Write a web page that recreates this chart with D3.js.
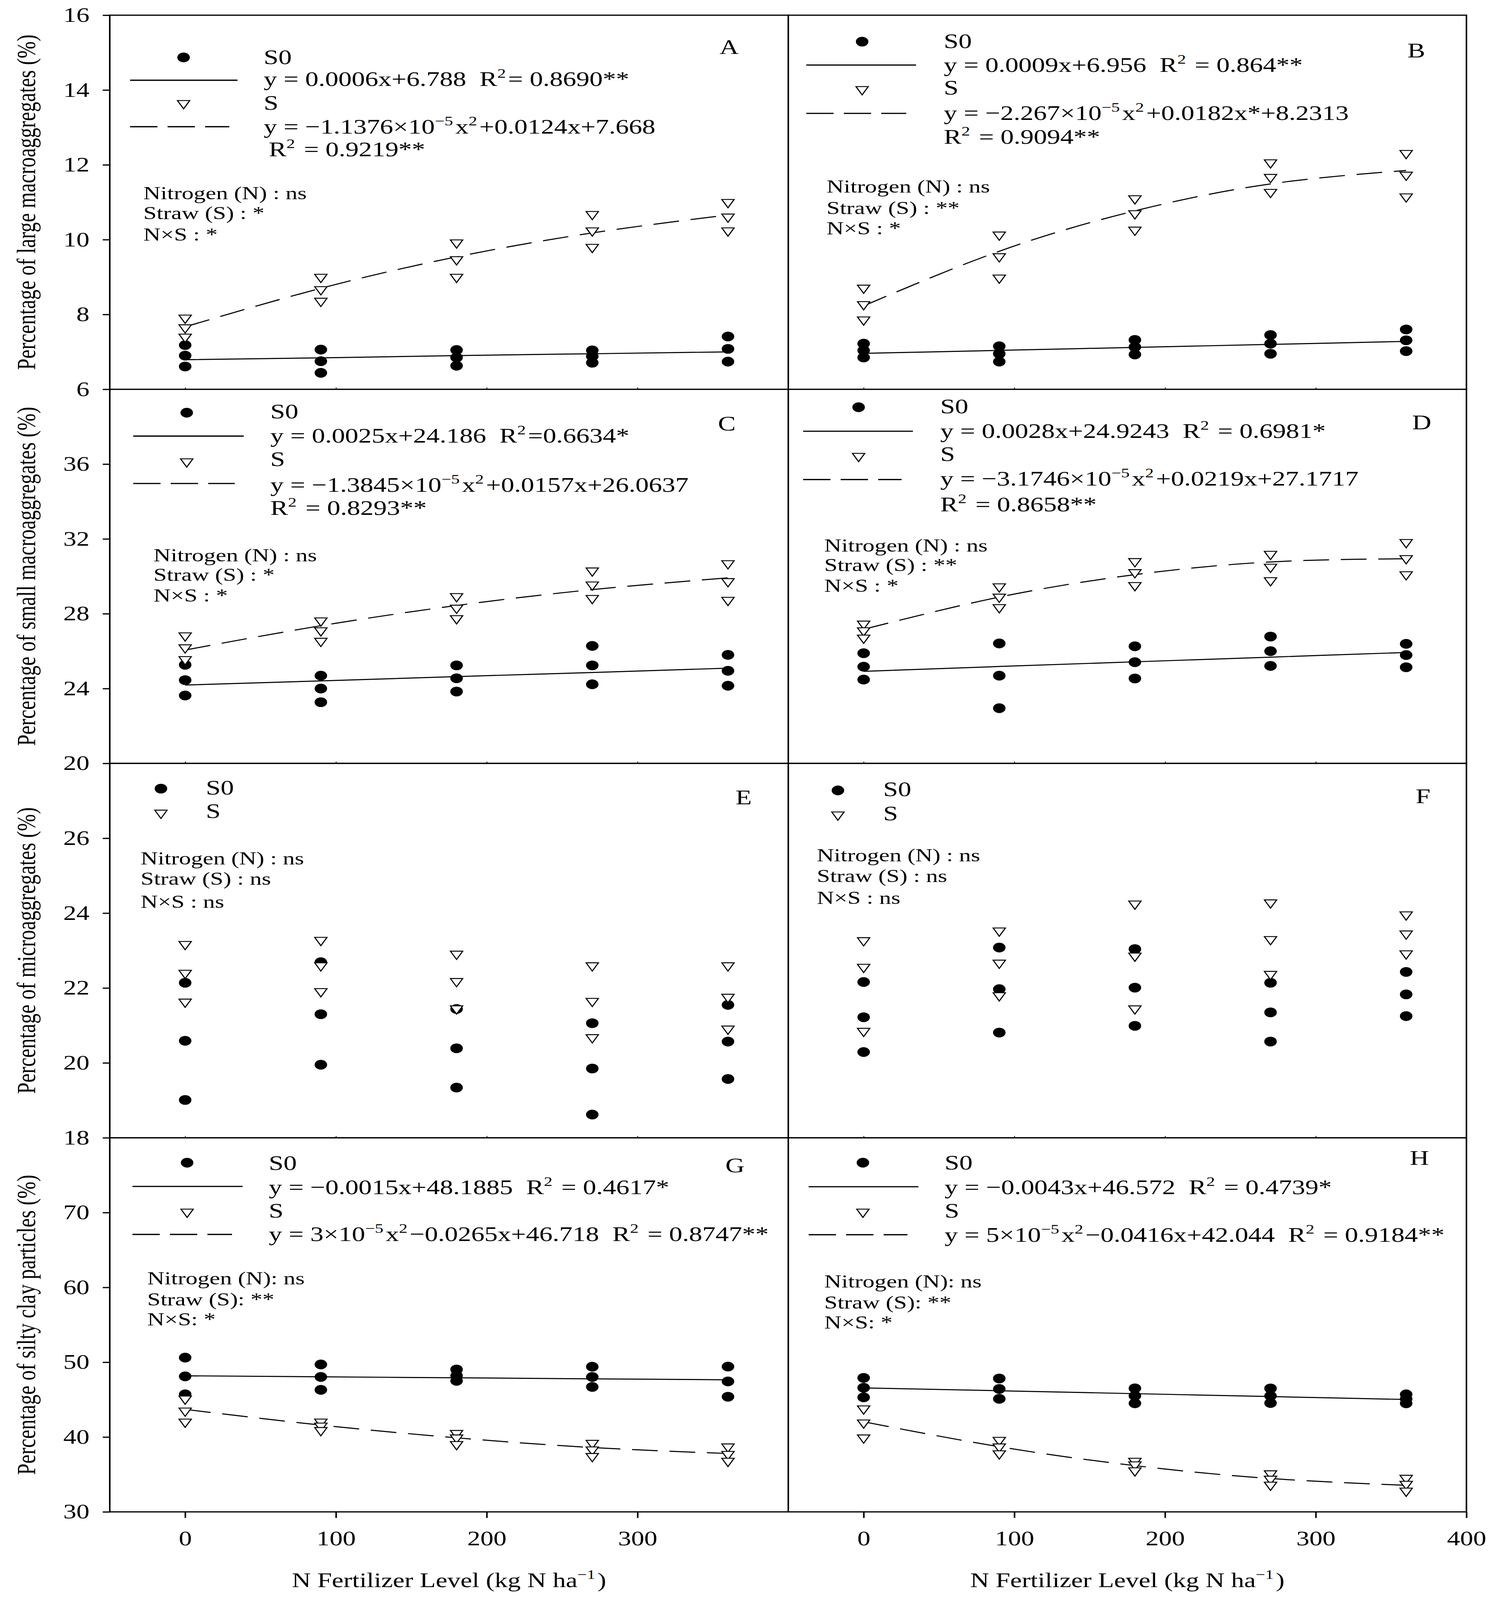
<!DOCTYPE html>
<html>
<head>
<meta charset="utf-8">
<script src="https://cdn.jsdelivr.net/npm/d3@7"></script>
<style>
  html, body { margin: 0; padding: 0; background: #fff; overflow: hidden; }
  svg { display: block; }
  svg text { font-family: "Liberation Serif", "Times New Roman", serif; fill: #000; white-space: pre; }
</style>
</head>
<body>
<svg id="chart"></svg>
<script>
// ---- data ----
var nLevels = [0, 90, 180, 270, 360];

// A: large macroaggregates, left
var aS0 = [[7.18, 6.90, 6.61], [7.06, 6.75, 6.44], [7.05, 6.85, 6.63], [7.04, 6.88, 6.71], [7.41, 7.08, 6.74]];
var aS = [[7.91, 7.65, 7.40], [9.00, 8.67, 8.36], [9.92, 9.47, 9.00], [10.68, 10.24, 9.80], [11.00, 10.61, 10.24]];
var aS0Fit = [6.79, 6.84, 6.90, 6.95, 7.00];
var aSFit = [7.67, 8.70, 9.54, 10.18, 10.66];

// B: large macroaggregates, right
var bS0 = [[7.22, 7.04, 6.85], [7.15, 6.95, 6.74], [7.32, 7.13, 6.93], [7.45, 7.22, 6.95], [7.60, 7.31, 7.02]];
var bS = [[8.71, 8.27, 7.86], [10.13, 9.55, 8.98], [11.10, 10.70, 10.26], [12.06, 11.67, 11.27], [12.31, 11.73, 11.15]];
var bS0Fit = [6.96, 7.04, 7.12, 7.20, 7.28];
var bSFit = [8.23, 9.69, 10.77, 11.49, 11.85];

// C: small macroaggregates, left
var cS0 = [[25.27, 24.45, 23.63], [24.69, 24.00, 23.27], [25.24, 24.55, 23.84], [26.28, 25.24, 24.23], [25.80, 24.95, 24.15]];
var cS = [[26.83, 26.19, 25.56], [27.63, 27.10, 26.54], [28.93, 28.31, 27.75], [30.30, 29.55, 28.83], [30.69, 29.73, 28.73]];
var cS0Fit = [24.19, 24.41, 24.64, 24.86, 25.09];
var cSFit = [26.06, 27.36, 28.44, 29.29, 29.92];

// D: small macroaggregates, right
var dS0 = [[25.89, 25.17, 24.48], [26.41, 24.69, 22.95], [26.26, 25.41, 24.54], [26.78, 26.00, 25.21], [26.39, 25.79, 25.14]];
var dS = [[27.46, 27.10, 26.71], [29.45, 28.90, 28.34], [30.80, 30.21, 29.52], [31.19, 30.50, 29.78], [31.82, 30.96, 30.10]];
var dS0Fit = [24.92, 25.18, 25.43, 25.68, 25.93];
var dSFit = [27.17, 28.89, 30.09, 30.77, 30.94];

// E: microaggregates, left
var eS0 = [[22.14, 20.59, 19.01], [22.69, 21.30, 19.95], [21.44, 20.39, 19.34], [21.06, 19.85, 18.62], [21.55, 20.57, 19.57]];
var eS = [[23.17, 22.40, 21.63], [23.28, 22.60, 21.91], [22.91, 22.18, 21.45], [22.60, 21.65, 20.68], [22.60, 21.76, 20.91]];

// F: microaggregates, right
var fS0 = [[22.16, 21.22, 20.29], [23.08, 21.97, 20.81], [23.04, 22.01, 20.99], [22.14, 21.35, 20.57], [22.43, 21.83, 21.25]];
var fS = [[23.27, 22.56, 20.85], [23.53, 22.67, 21.80], [24.25, 22.86, 21.45], [24.28, 23.30, 22.37], [23.96, 23.45, 22.92]];

// G: silty clay particles, left
var gS0 = [[50.62, 48.11, 45.71], [49.70, 48.03, 46.31], [49.03, 48.20, 47.51], [49.40, 48.03, 46.70], [49.42, 47.43, 45.39]];
var gS = [[45.11, 43.51, 42.03], [42.03, 41.50, 40.90], [40.51, 39.91, 39.03], [39.19, 38.31, 37.43], [38.71, 37.71, 36.80]];
var gS0Fit = [48.19, 48.05, 47.92, 47.78, 47.65];
var gSFit = [43.7, 41.6, 39.9, 38.6, 37.8];

// H: silty clay particles, right
var hS0 = [[47.91, 46.59, 45.31], [47.83, 46.43, 45.11], [46.51, 45.51, 44.51], [46.50, 45.50, 44.55], [45.71, 45.10, 44.51]];
var hS = [[43.79, 41.91, 39.91], [39.59, 38.71, 37.79], [36.80, 36.31, 35.52], [35.12, 34.40, 33.60], [34.52, 33.72, 32.80]];
var hS0Fit = [46.57, 46.19, 45.80, 45.41, 45.02];
var hSFit = [42.04, 38.71, 36.18, 34.46, 33.55];

// axes
var yDomains = [[6, 16], [20, 40], [18, 28], [30, 80]];
var yTicks = [[6, 8, 10, 12, 14, 16], [20, 24, 28, 32, 36], [18, 20, 22, 24, 26], [30, 40, 50, 60, 70]];
var yTitles = ["Percentage of large macroaggregates (%)", "Percentage of small macroaggregates (%)",
  "Percentage of microaggregates (%)", "Percentage of silty clay particles (%)"];
var xTicksLeft = [0, 100, 200, 300];
var xTicksRight = [0, 100, 200, 300, 400];
var xTitle = "N Fertilizer Level (kg N ha^{−1})";

// legend / annotation text
var statsSig1 = ["Nitrogen (N) : ns", "Straw (S) : *", "N×S : *"];
var statsSig2 = ["Nitrogen (N) : ns", "Straw (S) : **", "N×S : *"];
var statsNs = ["Nitrogen (N) : ns", "Straw (S) : ns", "N×S : ns"];
var statsClay = ["Nitrogen (N): ns", "Straw (S): **", "N×S: *"];

var eqA = ["y = 0.0006x+6.788  R^{2}= 0.8690**", "y = −1.1376×10^{−5}x^{2}+0.0124x+7.668", "R^{2} = 0.9219**"];
var eqB = ["y = 0.0009x+6.956  R^{2} = 0.864**", "y = −2.267×10^{−5}x^{2}+0.0182x*+8.2313", "R^{2} = 0.9094**"];
var eqC = ["y = 0.0025x+24.186  R^{2}=0.6634*", "y = −1.3845×10^{−5}x^{2}+0.0157x+26.0637", "R^{2} = 0.8293**"];
var eqD = ["y = 0.0028x+24.9243  R^{2} = 0.6981*", "y = −3.1746×10^{−5}x^{2}+0.0219x+27.1717", "R^{2} = 0.8658**"];
var eqG = ["y = −0.0015x+48.1885  R^{2} = 0.4617*", "y = 3×10^{−5}x^{2}−0.0265x+46.718  R^{2} = 0.8747**"];
var eqH = ["y = −0.0043x+46.572  R^{2} = 0.4739*", "y = 5×10^{−5}x^{2}−0.0416x+42.044  R^{2} = 0.9184**"];

// ---- layout ----
var W = 3822, H = 5265;
var colX = [281, 2018, 3754];
var rowY = [50, 1281, 2512, 3744, 4975];
var axisFont = 67, legendFont = 68, statsFont = 61;

var panels = [
  {id: "A", col: 0, row: 0, s0: aS0, s: aS, s0Fit: aS0Fit, sFit: aSFit, eq: eqA, stats: statsSig1,
   pos: {m: 189, mS0: 139, mS: 290, l: [52, 327], d: [52, 306], lS0: 214, lS: 367, tx: 394,
         tS0: 161, tEq0: 233, tS: 311, tEq: 389, eq2x: 407, tEq2: 464, sx: 86, sy: [605, 671, 742], lt: [1561, 128]}},
  {id: "B", col: 1, row: 0, s0: bS0, s: bS, s0Fit: bS0Fit, sFit: bSFit, eq: eqB, stats: statsSig2,
   pos: {m: 189, mS0: 87, mS: 244, l: [46, 327], d: [46, 302], lS0: 164, lS: 323, tx: 398,
         tS0: 108, tEq0: 186, tS: 261, tEq: 344, eq2x: 398, tEq2: 423, sx: 98, sy: [584, 655, 721], lt: [1585, 139]}},
  {id: "C", col: 0, row: 1, s0: cS0, s: cS, s0Fit: cS0Fit, sFit: cSFit, eq: eqC, stats: statsSig1,
   pos: {m: 197, mS0: 77, mS: 238, l: [60, 343], d: [60, 320], lS0: 154, lS: 310, tx: 411,
         tS0: 96, tEq0: 176, tS: 252, tEq: 337, eq2x: 411, tEq2: 413, sx: 112, sy: [566, 630, 699], lt: [1557, 136]}},
  {id: "D", col: 1, row: 1, s0: dS0, s: dS, s0Fit: dS0Fit, sFit: dSFit, eq: eqD, stats: statsSig2,
   pos: {m: 180, mS0: 59, mS: 220, l: [38, 319], d: [38, 290], lS0: 138, lS: 297, tx: 389,
         tS0: 79, tEq0: 160, tS: 236, tEq: 317, eq2x: 389, tEq2: 401, sx: 92, sy: [534, 598, 666], lt: [1597, 132]}},
  {id: "E", col: 0, row: 2, s0: eS0, s: eS, stats: statsNs,
   pos: {m: 131, mS0: 83, mS: 163, tx: 246, tS0: 103, tS: 179, sx: 79, sy: [332, 400, 475], lt: [1602, 135]}},
  {id: "F", col: 1, row: 2, s0: fS0, s: fS, stats: statsNs,
   pos: {m: 127, mS0: 89, mS: 169, tx: 243, tS0: 108, tS: 187, sx: 73, sy: [322, 390, 463], lt: [1606, 131]}},
  {id: "G", col: 0, row: 3, s0: gS0, s: gS, s0Fit: gS0Fit, sFit: gSFit, eq: eqG, stats: statsClay,
   pos: {m: 198, mS0: 82, mS: 244, l: [58, 340], d: [58, 313], lS0: 160, lS: 318, tx: 407,
         tS0: 106, tEq0: 185, tS: 262, tEq: 340, sx: 96, sy: [483, 552, 618], lt: [1576, 114]}},
  {id: "H", col: 1, row: 3, s0: hS0, s: hS, s0Fit: hS0Fit, sFit: hSFit, eq: eqH, stats: statsClay,
   pos: {m: 191, mS0: 82, mS: 244, l: [52, 333], d: [52, 305], lS0: 161, lS: 319, tx: 400,
         tS0: 104, tEq0: 185, tS: 262, tEq: 342, sx: 92, sy: [493, 562, 628], lt: [1591, 89]}}
];

// fit the drawing to whatever viewport we get
var vw = window.innerWidth || W, vh = window.innerHeight || H;
var svg = d3.select("#chart").attr("width", vw).attr("height", vh)
  .attr("viewBox", "0 0 " + W + " " + H).attr("preserveAspectRatio", "none");
svg.append("rect").attr("width", W).attr("height", H).attr("fill", "#fff");

var triangle = d3.symbol().type(d3.symbolTriangle).size(430);
var circleR = 16;

// writes "a^{b}c" as text with raised tspans
function richText(sel, str, size) {
  var parts = str.split(/\^\{([^}]*)\}/);
  var supSize = Math.round(size * 0.64), shift = Math.round(size * 0.4);
  parts.forEach(function (p, i) {
    if (p === "") return;
    var t = sel.append("tspan").text(p);
    if (i % 2 === 1) {
      t.attr("font-size", supSize).attr("dy", -shift);
      sel.append("tspan").attr("dy", shift).text("\u200a");
    }
  });
}

function drawTriangle(g, x, y) {
  g.append("path").attr("d", triangle)
    .attr("transform", "translate(" + x + "," + y + ") rotate(180)")
    .attr("fill", "#fff").attr("stroke", "#000").attr("stroke-width", 3);
}

panels.forEach(function (p) {
  var x0 = colX[p.col], x1 = colX[p.col + 1];
  var y0 = rowY[p.row], y1 = rowY[p.row + 1];
  var x = d3.scaleLinear().domain([-50, 400]).range([x0, x1]);
  var y = d3.scaleLinear().domain(yDomains[p.row]).range([y1, y0]);
  var g = svg.append("g");
  var pos = p.pos;

  // fit curves
  var line = d3.line().x(function (d, i) { return x(nLevels[i]); }).y(function (d) { return y(d); })
    .curve(d3.curveNatural);
  if (p.s0Fit) {
    g.append("path").attr("d", line(p.s0Fit)).attr("fill", "none").attr("stroke", "#000").attr("stroke-width", 3.5);
    g.append("path").attr("d", line(p.sFit)).attr("fill", "none").attr("stroke", "#000").attr("stroke-width", 3.5)
      .attr("stroke-dasharray", "66,30");
  }

  // points
  p.s0.forEach(function (reps, i) {
    reps.forEach(function (v) {
      g.append("circle").attr("cx", x(nLevels[i])).attr("cy", y(v)).attr("r", circleR).attr("fill", "#000");
    });
  });
  p.s.forEach(function (reps, i) {
    reps.forEach(function (v) { drawTriangle(g, x(nLevels[i]), y(v)); });
  });

  // left axis ticks (left column only)
  if (p.col === 0) {
    var ya = d3.axisLeft(y).tickValues(yTicks[p.row]).tickSize(18).tickPadding(34).tickSizeOuter(0);
    var ag = svg.append("g").attr("transform", "translate(" + x0 + ",0)").call(ya);
    ag.select(".domain").remove();
    ag.selectAll("line").attr("stroke", "#000").attr("stroke-width", 4);
    ag.selectAll("text").attr("font-size", axisFont).attr("font-family", "Liberation Serif");
    svg.append("text")
      .attr("transform", "translate(90," + ((y0 + y1) / 2) + ") rotate(-90)")
      .attr("text-anchor", "middle").attr("font-size", axisFont)
      .text(yTitles[p.row]);
  }

  // bottom axis
  var vals = p.col === 0 ? xTicksLeft : xTicksRight;
  if (p.row === 3) {
    var xa = d3.axisBottom(x).tickValues(vals).tickSize(20).tickPadding(43).tickSizeOuter(0);
    var xg = svg.append("g").attr("transform", "translate(0," + y1 + ")").call(xa);
    xg.select(".domain").remove();
    xg.selectAll("line").attr("stroke", "#000").attr("stroke-width", 4);
    xg.selectAll("text").attr("font-size", axisFont).attr("font-family", "Liberation Serif");
    var tt = svg.append("text").attr("x", (x0 + x1) / 2).attr("y", 5222)
      .attr("text-anchor", "middle").attr("font-size", axisFont);
    richText(tt, xTitle, axisFont);
  } else {
    var xi = d3.axisBottom(x).tickValues(xTicksLeft).tickSize(-6).tickFormat("").tickSizeOuter(0);
    var ig = svg.append("g").attr("transform", "translate(0," + y1 + ")").call(xi);
    ig.select(".domain").remove();
    ig.selectAll("line").attr("stroke", "#000").attr("stroke-width", 2);
  }

  // frame
  svg.append("rect").attr("x", x0).attr("y", y0).attr("width", x1 - x0).attr("height", y1 - y0)
    .attr("fill", "none").attr("stroke", "#000").attr("stroke-width", 4);

  // legend
  var lg = svg.append("g").attr("transform", "translate(" + x0 + "," + y0 + ")");
  lg.append("circle").attr("cx", pos.m).attr("cy", pos.mS0).attr("r", circleR).attr("fill", "#000");
  lg.append("text").attr("x", pos.tx).attr("y", pos.tS0).attr("font-size", legendFont).text("S0");
  drawTriangle(lg, pos.m, pos.mS);
  lg.append("text").attr("x", pos.tx).attr("y", pos.tS).attr("font-size", legendFont).text("S");
  if (p.eq) {
    lg.append("line").attr("x1", pos.l[0]).attr("x2", pos.l[1]).attr("y1", pos.lS0).attr("y2", pos.lS0)
      .attr("stroke", "#000").attr("stroke-width", 4);
    lg.append("line").attr("x1", pos.d[0]).attr("x2", pos.d[1]).attr("y1", pos.lS).attr("y2", pos.lS)
      .attr("stroke", "#000").attr("stroke-width", 4).attr("stroke-dasharray", "70,26");
    richText(lg.append("text").attr("x", pos.tx).attr("y", pos.tEq0).attr("font-size", legendFont), p.eq[0], legendFont);
    richText(lg.append("text").attr("x", pos.tx).attr("y", pos.tEq).attr("font-size", legendFont), p.eq[1], legendFont);
    if (p.eq[2]) {
      richText(lg.append("text").attr("x", pos.eq2x).attr("y", pos.tEq2).attr("font-size", legendFont), p.eq[2], legendFont);
    }
  }
  p.stats.forEach(function (s, i) {
    lg.append("text").attr("x", pos.sx).attr("y", pos.sy[i]).attr("font-size", statsFont).text(s);
  });
  lg.append("text").attr("x", pos.lt[0]).attr("y", pos.lt[1]).attr("font-size", legendFont).text(p.id);
});
</script>
</body>
</html>
